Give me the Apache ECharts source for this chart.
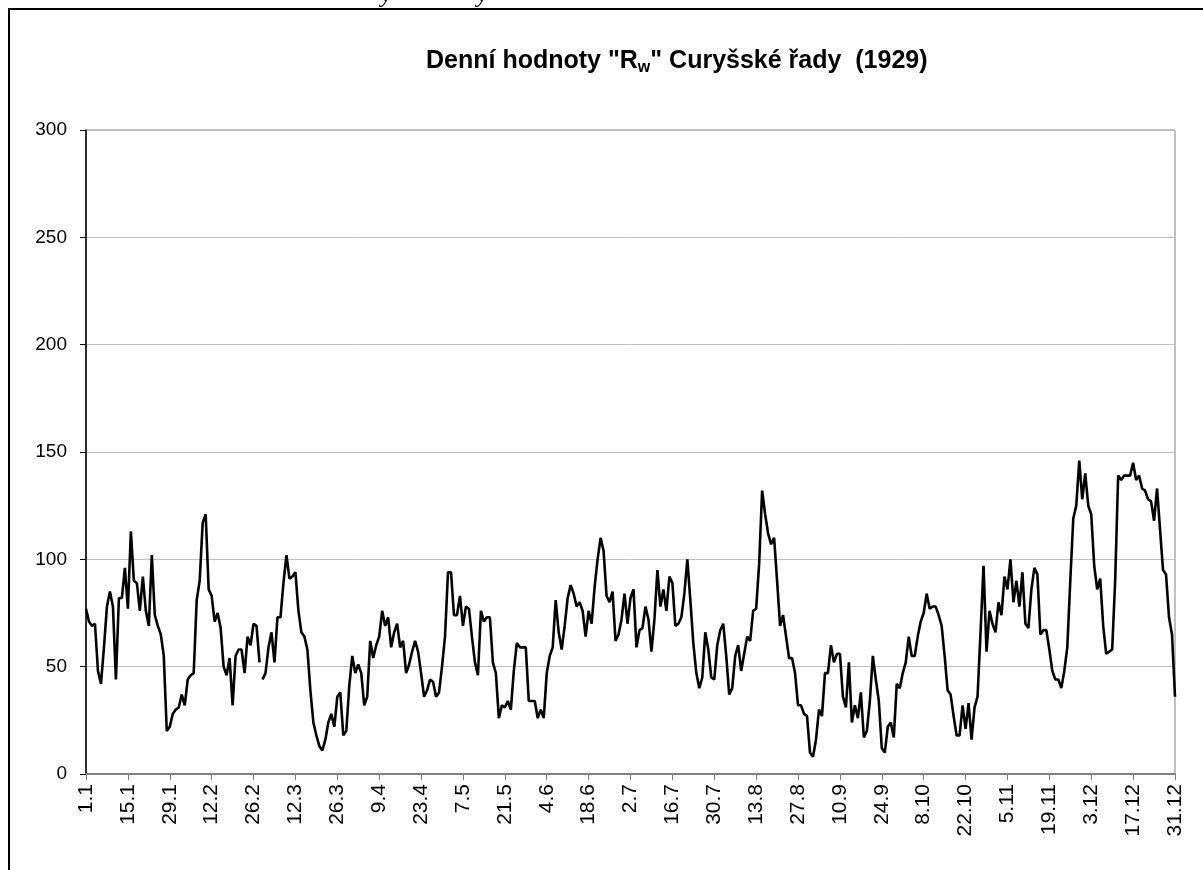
<!DOCTYPE html>
<html>
<head>
<meta charset="utf-8">
<script src="https://cdn.jsdelivr.net/npm/echarts@6/dist/echarts.min.js"></script>
<style>
  html, body { margin: 0; padding: 0; background: #fff; }
  #chart { width: 1203px; height: 870px; }
</style>
</head>
<body>
<div id="chart"></div>
<script>
// daily R_w values, 1929 (index 0 = 1.1.)
const year = 1929;
const valuesJanMar = [
  77,71,69,70,48,42,59,78,85,78,
  44,82,82,96,77,113,90,89,76,92,
  76,69,102,74,69,65,55,20,22,28,
  30,31,37,32,44,46,47,81,90,117,
  121,86,83,71,75,68,50,46,54,32,
  55,58,58,47,64,60,70,69,52,44,
  47,59,66,52,73,73,89,102,91,92,
  94,76,66,64,58,39,24,18,13,11,
  16,24,28,22,36,38,18,20,41,55
];
const valuesAprJun = [
  47,51,47,32,36,62,54,60,64,76,
  69,73,59,66,70,59,62,47,51,57,
  62,57,47,36,39,44,43,36,38,50,
  64,94,94,74,74,83,69,78,77,64,
  52,46,76,71,73,73,52,47,26,32,
  31,34,30,48,61,59,59,59,34,34,
  34,26,30,26,47,55,59,81,66,58,
  69,82,88,84,78,80,76,64,76,70,
  87,100,110,104,83,80,85,62,65,72
];
const valuesJulSep = [
  84,70,82,86,59,67,68,78,72,57,
  72,95,78,86,76,92,89,69,70,73,
  84,100,81,61,47,40,45,66,58,45,
  44,60,67,70,55,37,40,55,60,48,
  56,64,62,76,77,98,132,121,112,107,
  110,90,69,74,64,54,54,47,32,32,
  28,27,10,8,16,30,27,47,47,60,
  52,56,56,36,31,52,24,32,26,38,
  17,20,34,55,44,34,12,10,22,24
];
const valuesOctDec = [
  17,42,40,47,52,64,55,55,64,71,
  75,84,77,78,78,74,69,55,39,37,
  27,18,18,32,21,33,16,31,36,66,
  97,57,76,70,66,80,74,92,86,100,
  80,90,78,94,70,68,86,96,93,65,
  67,67,58,48,44,44,40,48,59,90,
  119,125,146,128,140,125,121,97,86,91,
  69,56,57,58,90,139,137,139,139,139,
  145,137,139,133,132,128,127,118,133,114,
  95,93,73,65,36
];
const values = valuesJanMar.concat(valuesAprJun, valuesJulSep, valuesOctDec);

// the line is broken between these two days in the original
const breakAfter = 58;

const yTicks = [0, 50, 100, 150, 200, 250, 300];

// category labels d.m
const days = [];
for (let i = 0; i < values.length; i++) {
  const d = new Date(Date.UTC(year, 0, 1 + i));
  days.push(d.getUTCDate() + '.' + (d.getUTCMonth() + 1));
}

const partA = values.slice(0, breakAfter + 1);
const partB = values.map((v, i) => (i <= breakAfter ? null : v));

const font = '"Liberation Sans", Arial, sans-serif';

const chart = echarts.init(document.getElementById('chart'), null, { renderer: 'canvas' });

chart.setOption({
  animation: false,
  backgroundColor: '#fff',
  title: {
    text: 'Denní hodnoty "R{sub|w}" Curyšské řady  (1929)',
    left: 421,
    top: 41,
    textStyle: {
      fontFamily: font,
      fontSize: 25,
      fontWeight: 'bold',
      color: '#000',
      lineHeight: 30,
      rich: {
        sub: {
          fontFamily: font,
          fontSize: 16,
          fontWeight: 'bold',
          color: '#000',
          verticalAlign: 'bottom',
          lineHeight: 30,
          padding: [11, 0, 0, 0]
        }
      }
    }
  },
  grid: {
    left: 86,
    right: 28,
    top: 130,
    bottom: 96,
    show: true,
    borderColor: '#808080',
    borderWidth: 1
  },
  xAxis: {
    type: 'category',
    data: days,
    boundaryGap: false,
    axisLine: { lineStyle: { color: '#808080', width: 2 } },
    axisTick: { interval: 13, length: 6, lineStyle: { color: '#808080' } },
    axisLabel: {
      interval: 13,
      rotate: 90,
      margin: 10,
      fontFamily: font,
      fontSize: 21,
      color: '#000'
    },
    splitLine: { show: false }
  },
  yAxis: {
    type: 'value',
    min: yTicks[0],
    max: yTicks[yTicks.length - 1],
    interval: 50,
    axisLine: { show: true, lineStyle: { color: '#000', width: 1.5 } },
    axisTick: { show: true, length: 6, lineStyle: { color: '#000' } },
    axisLabel: {
      margin: 19,
      fontFamily: font,
      fontSize: 19,
      color: '#000'
    },
    splitLine: { lineStyle: { color: '#c0c0c0', width: 1 } }
  },
  series: [
    {
      type: 'line',
      data: partA,
      showSymbol: false,
      lineStyle: { color: '#000', width: 2.6 },
      itemStyle: { color: '#000' }
    },
    {
      type: 'line',
      data: partB,
      showSymbol: false,
      lineStyle: { color: '#000', width: 2.6 },
      itemStyle: { color: '#000' }
    }
  ],
  graphic: [
    {
      type: 'polyline',
      shape: { points: [[9, 870], [9, 9], [1203, 9]] },
      style: { stroke: '#000', lineWidth: 2, fill: null }
    },
    {
      type: 'text',
      left: 381,
      top: -16,
      style: { text: 'y', font: 'italic 24px "Liberation Serif", serif', fill: '#000' }
    },
    {
      type: 'text',
      left: 477,
      top: -16,
      style: { text: 'y', font: 'italic 24px "Liberation Serif", serif', fill: '#000' }
    }
  ]
});
</script>
</body>
</html>
